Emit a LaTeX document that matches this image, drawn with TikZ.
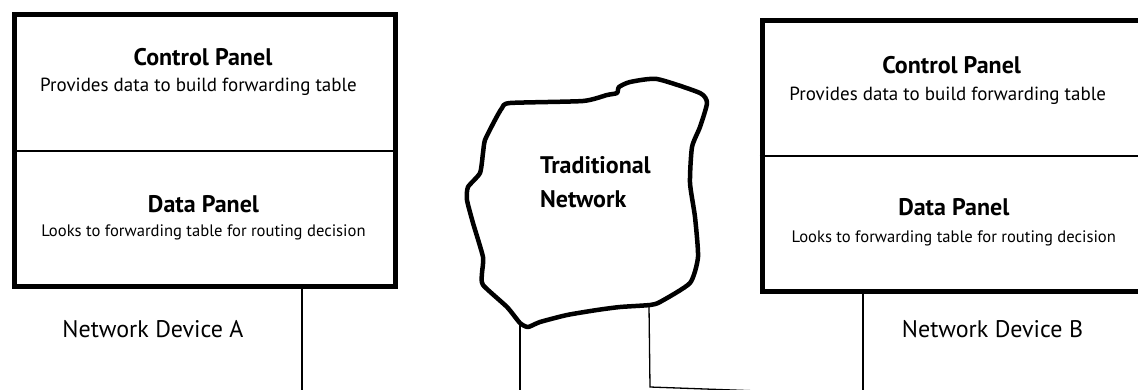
\documentclass[tikz,border=0pt]{standalone}
\usepackage{fontspec}
\setmainfont{PT Sans}
\begin{document}
\begin{tikzpicture}[x=1pt,y=-1pt,
  devbox/.style={draw=black,line width=5pt,inner sep=0pt,fill=none},
  conn/.style={draw=black,line width=1.3pt},
  divider/.style={draw=black,line width=1.3pt},
  head/.style={font=\bfseries\fontsize{24}{28}\selectfont,anchor=base,inner sep=0pt},
  sub/.style={font=\fontsize{19}{22}\selectfont,anchor=base,inner sep=0pt},
  subs/.style={font=\fontsize{16.6}{20}\selectfont,anchor=base,inner sep=0pt},
  devlabel/.style={font=\fontsize{24}{28}\selectfont,anchor=base,inner sep=0pt},
  cloudtext/.style={font=\bfseries\fontsize{24}{28}\selectfont,anchor=base west,inner sep=0pt}]
\useasboundingbox (0,0) rectangle (1138,389);
\clip (0,0) rectangle (1138,389);
% left device
\node[devbox,minimum width=380.5pt,minimum height=272pt] (boxA) at (204.75,150.5) {};
\draw[divider] (boxA.west |- 0,151) coordinate (dA1) -- (boxA.east |- 0,151) coordinate (dA2);
\node[head] (cpA) at (203,65) {Control Panel};
\node[sub] (cpAt) at (198.5,91) {Provides data to build forwarding table};
\node[head] (dpA) at (203.5,212) {Data Panel};
\node[subs] (dpAt) at (203.5,236) {Looks to forwarding table for routing decision};
\node[devlabel] (ndA) at (153,337) {Network Device A};
% right device
\node[devbox,minimum width=388pt,minimum height=271pt] (boxB) at (956,155.5) {};
\draw[divider] (boxB.west |- 0,156) coordinate (dB1) -- (boxB.east |- 0,156) coordinate (dB2);
\node[head] (cpB) at (951.7,73) {Control Panel};
\node[sub] (cpBt) at (947.7,100) {Provides data to build forwarding table};
\node[head] (dpB) at (953.8,215) {Data Panel};
\node[subs] (dpBt) at (953.8,242) {Looks to forwarding table for routing decision};
\node[devlabel] (ndB) at (992.5,337) {Network Device B};
% cloud
\draw[line width=4.5pt,line join=round] plot[smooth cycle,tension=0.35] coordinates {
(510,103) (583,101) (607,95) (617,93) (619,87) (630,82) (657,79) (700,93) (707,103)
(700,127) (692,147) (690,183) (695,217) (698,257) (690,283) (660,302) (650,305)
(620,307) (597,310) (567,315) (540,322) (528,327) (520,323) (507,307) (483,285)
(482,273) (483,257) (473,223) (467,200) (468,187) (480,173) (483,153) (485,140)
(495,120) (502,108)};
\node[cloudtext] (net1) at (540,173) {Traditional};
\node[cloudtext] (net2) at (540,207) {Network};
\coordinate (cl1) at (520,323);
\coordinate (cl2) at (649,306);
% connectors
\coordinate (a1) at (302,392);
\draw[conn] (boxA.south -| a1) -- (a1);
\coordinate (b1) at (863,392);
\draw[conn] (boxB.south -| b1) -- (b1);
\coordinate (c1) at (520,392);
\draw[conn] (cl1) -- (c1);
\coordinate (c2) at (650,387);
\coordinate (c3) at (760,391);
\draw[conn] (cl2) -- (c2) -- (c3);
\end{tikzpicture}
\end{document}
